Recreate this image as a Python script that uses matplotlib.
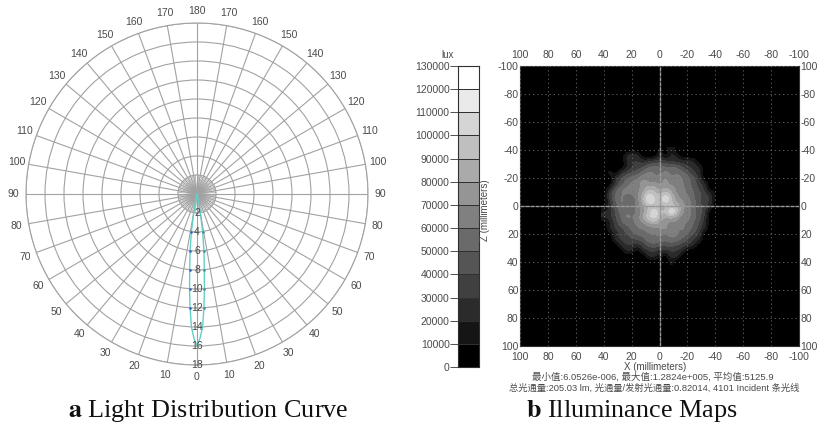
import numpy as np
import matplotlib
matplotlib.use("Agg")
import matplotlib.pyplot as plt
from matplotlib.colors import ListedColormap, BoundaryNorm

W, H = 818, 425
plt.rcParams['font.family'] = ['Liberation Sans', 'Noto Sans CJK SC', 'DejaVu Sans']

# ---- data ----
polar_angle_labels = [10, 20, 30, 40, 50, 60, 70, 80, 90, 100, 110, 120, 130, 140, 150, 160, 170]
radial_ticks = [2, 4, 6, 8, 10, 12, 14, 16, 18]
lobe_angle_deg = [0, 1.2, 2.4, 3.5, 4.5, 5.5, 7, 8.5, 10, 12, 15]
lobe_radius = [16, 15.2, 14, 12, 10, 8, 6, 4, 2, 1, 0]

color_levels = [0, 10000, 20000, 30000, 40000, 50000, 60000, 70000, 80000, 90000,
                100000, 110000, 120000, 130000]
x_ticks_mm = [100, 80, 60, 40, 20, 0, -20, -40, -60, -80, -100]
y_ticks_mm = [-100, -80, -60, -40, -20, 0, 20, 40, 60, 80, 100]
y_right_labels = ['100', '-80', '-60', '-40', '-20', '0', '20', '40', '60', '80', '100']

# illuminance in thousands of lux, rows top to bottom, columns left to right, 4 mm pitch
klux = np.array([
 [0,0,0,0,0,0,0,0,0,0,15,0,25,0,0,0,0,0,0,0,0],
 [0,0,0,0,25,30,30,0,0,0,25,0,25,20,0,0,0,0,0,0,0],
 [0,0,0,0,20,30,30,25,30,35,35,35,25,25,25,25,25,0,0,0,0],
 [0,0,0,0,15,30,35,40,50,55,55,50,55,50,40,30,25,25,0,0,0],
 [0,25,0,25,35,40,45,55,65,60,55,65,55,60,55,45,30,25,0,0,0],
 [0,0,25,40,50,55,60,70,65,60,65,75,60,65,60,55,45,30,0,0,0],
 [0,0,30,45,55,65,65,80,70,75,65,75,65,75,60,55,45,35,25,0,0],
 [0,25,45,60,65,60,65,75,90,90,75,85,75,65,65,55,50,40,30,0,15],
 [0,35,55,60,60,60,70,85,110,95,90,105,90,70,65,60,50,45,35,30,0],
 [0,30,50,65,55,50,65,90,120,105,95,120,95,75,70,65,55,40,35,30,0],
 [0,25,45,60,60,55,65,80,90,95,80,85,90,90,75,65,55,45,35,25,0],
 [20,25,40,55,60,55,60,75,95,115,95,90,125,100,70,65,55,45,35,0,0],
 [25,25,40,50,65,60,65,85,100,110,90,80,85,75,65,65,55,45,30,0,0],
 [0,15,35,50,55,55,65,70,80,90,75,70,65,70,60,60,50,40,25,0,0],
 [0,25,30,35,45,55,60,60,65,65,70,75,65,55,65,55,50,35,25,0,0],
 [0,0,25,35,40,45,55,55,60,60,65,60,65,65,55,50,40,30,0,0,0],
 [0,0,25,30,35,40,40,45,60,55,55,50,60,55,50,40,30,25,0,0,0],
 [0,0,0,25,30,30,25,35,45,50,45,45,45,40,35,30,25,0,0,0,0],
 [0,0,0,0,25,20,0,25,30,30,25,25,30,30,25,0,0,0,0,0,0],
 [0,0,0,0,0,0,0,0,25,25,15,0,30,25,0,0,0,0,0,0,0],
 [0,0,0,0,0,0,0,0,0,0,0,0,15,0,0,0,0,0,0,0,0],
], dtype=float)

stat_line = '最小值:6.0526e-006, 最大值:1.2824e+005, 平均值:5125.9'
flux_line = '总光通量:205.03 lm, 光通量/发射光通量:0.82014, 4101 Incident 条光线'

# ---- helpers ----
def rect(x0, y0, x1, y1):
    return [x0 / W, 1 - y1 / H, (x1 - x0) / W, (y1 - y0) / H]

fig = plt.figure(figsize=(W / 100, H / 100), dpi=100, facecolor='white')
GREY = '#a2a2a2'
TXT = '#4a4a4a'

# ---- a: polar ----
ax = fig.add_axes(rect(26, 23, 368, 365), projection='polar')
ax.set_theta_zero_location('S')
ax.set_theta_direction(-1)
ax.set_rlim(0, 18)
ax.set_rticks(radial_ticks)
ax.set_xticks(np.deg2rad(np.arange(0, 360, 10)))
ax.set_xticklabels([])
ax.set_yticklabels([])
ax.grid(True, color=GREY, lw=0.8)
ax.spines['polar'].set_color(GREY)
ax.spines['polar'].set_linewidth(0.8)
for a in np.arange(0, 360, 5):
    ax.plot([np.deg2rad(a)] * 2, [0, 2], color='#9a9a9a', lw=0.45, zorder=1)

ang = np.deg2rad(np.array(lobe_angle_deg))
rad = np.array(lobe_radius, dtype=float)
ax.plot(np.r_[-ang[::-1], ang[1:]], np.r_[rad[::-1], rad[1:]], color='#62cfc4', lw=1.0, zorder=3)
ax.plot(ang[3:8], rad[3:8], ls='none', marker='.', ms=1.8, color='#3a5fc0', zorder=4)
ax.plot(-ang[3:8], rad[3:8], ls='none', marker='.', ms=1.8, color='#4a8fa0', zorder=4)

for t in radial_ticks:
    ax.text(0, t, str(t), fontsize=7.5, color=TXT, ha='center', va='center', zorder=5)
for v in polar_angle_labels:
    for s in (1, -1):
        ax.text(np.deg2rad(s * v), 19.3, str(v), fontsize=7.5, color=TXT,
                ha='center', va='center', clip_on=False)
ax.text(np.pi, 19.3, '180', fontsize=7.5, color=TXT, ha='center', va='center', clip_on=False)
ax.text(0, 19.3, '0', fontsize=7.5, color=TXT, ha='center', va='center', clip_on=False)

# ---- b: colorbar ----
cb = fig.add_axes(rect(458, 66, 479, 367))
greys = [str(i / 12) for i in range(12)] + ['1.0']
cmap = ListedColormap(greys)
norm = BoundaryNorm(color_levels, cmap.N)
cb.pcolormesh([0, 1], color_levels, np.array(color_levels[:-1]).reshape(-1, 1) + 5000,
              cmap=cmap, norm=norm, edgecolors='#303030', linewidth=0.6)
cb.set_xticks([])
cb.set_ylim(0, 130000)
cb.set_yticks(color_levels)
cb.set_yticklabels([str(v) for v in color_levels], fontsize=7.5, color=TXT)
cb.tick_params(axis='y', length=6, width=0.7, color='#505050', pad=0)
for s in cb.spines.values():
    s.set_color('#303030')
    s.set_linewidth(0.8)
fig.text(448 / W, 1 - 55 / H, 'lux', fontsize=7, color=TXT, ha='center', va='center')

# ---- b: map ----
m = fig.add_axes(rect(520, 66, 799, 346))
m.set_facecolor('black')
half = 10.5 * 4
m.imshow(klux * 1000, extent=[half, -half, half, -half], cmap=cmap, norm=norm,
         interpolation='bicubic', aspect='auto', zorder=1)
m.set_xlim(100, -100)
m.set_ylim(100, -100)
m.set_xticks(x_ticks_mm)
m.set_yticks(y_ticks_mm)
m.set_xticklabels([str(v) for v in x_ticks_mm], fontsize=7.5, color=TXT)
m.set_yticklabels([str(v) for v in y_ticks_mm], fontsize=7.5, color=TXT)
m.tick_params(axis='x', length=0, pad=4, top=True, labeltop=True, bottom=True, labelbottom=True)
m.tick_params(axis='y', length=0, pad=1)
m.grid(True, color='#6e6e6e', lw=0.6, ls=(0, (1.5, 3.5)), zorder=2)
m.set_axisbelow(False)
m.axvline(0, color='#9a9a9a', lw=1.0, ls=(0, (3, 0.6)), zorder=3)
m.axhline(0, color='#9a9a9a', lw=1.0, ls=(0, (3, 0.6)), zorder=3)
for s in m.spines.values():
    s.set_color('#303030')
tw = m.twinx()
tw.set_ylim(100, -100)
tw.set_yticks(y_ticks_mm)
tw.set_yticklabels(y_right_labels, fontsize=7.5, color=TXT)
tw.tick_params(axis='y', length=0, pad=1)
for s in tw.spines.values():
    s.set_visible(False)

fig.text(485 / W, 1 - 210 / H, 'Z (millimeters)', fontsize=7, color=TXT,
         rotation=90, ha='center', va='center')
fig.text(655 / W, 1 - 367 / H, 'X (millimeters)', fontsize=7, color=TXT, ha='center', va='center')
fig.text(653 / W, 1 - 377.5 / H, stat_line, fontsize=6.8, color=TXT, ha='center', va='center')
fig.text(654 / W, 1 - 388.5 / H, flux_line, fontsize=6.7, color=TXT, ha='center', va='center')

# ---- captions ----
def caption(x, bold, rest):
    fig.text(x / W, 1 - 417 / H, r'$\mathbf{' + bold + '}$ ' + rest, fontsize=18.8, color='#111111',
             family='Liberation Serif', math_fontfamily='stix', ha='center', va='baseline')
caption(208, 'a', 'Light Distribution Curve')
caption(632, 'b', 'Illuminance Maps')

fig.savefig('out.png', dpi=100)
